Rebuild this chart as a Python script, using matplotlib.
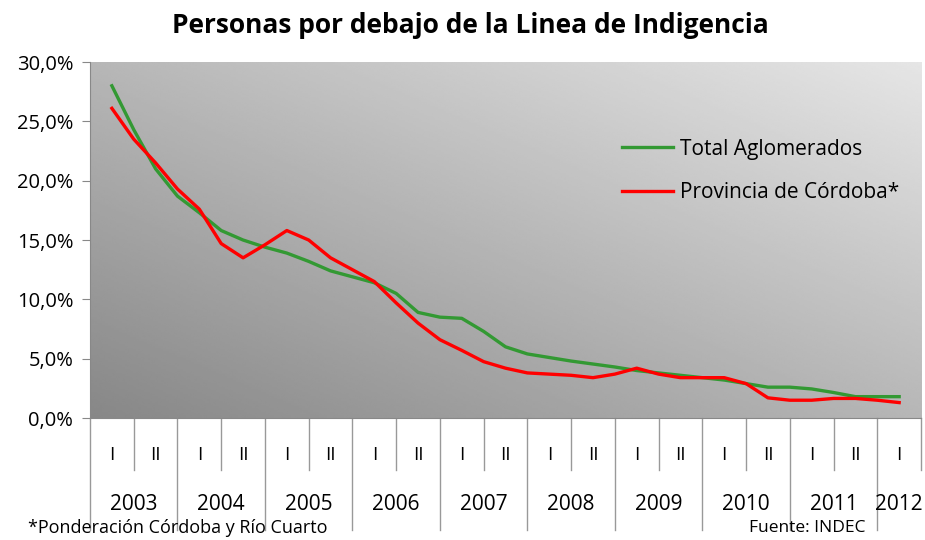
import matplotlib
matplotlib.use("Agg")
from matplotlib import pyplot as plt
from matplotlib.ticker import FuncFormatter
import numpy as np

plt.rcParams['font.family'] = ['Open Sans', 'DejaVu Sans']

years = ['2003', '2004', '2005', '2006', '2007', '2008', '2009', '2010', '2011', '2012']
semesters = ['I', 'II'] * 9 + ['I']

# values read every half semester (position in semester units)
pos = [i / 2 for i in range(37)]
total_aglo = [28.0, 24.3, 21.0, 18.7, 17.3, 15.8, 15.0, 14.4, 13.9, 13.2,
              12.4, 11.9, 11.4, 10.5, 8.9, 8.5, 8.4, 7.3, 6.0, 5.4,
              5.1, 4.8, 4.55, 4.3, 4.0, 3.8, 3.6, 3.4, 3.2, 2.9,
              2.6, 2.6, 2.45, 2.15, 1.8, 1.8, 1.8]
cordoba = [26.1, 23.5, 21.5, 19.3, 17.6, 14.7, 13.5, 14.6, 15.8, 15.0,
           13.5, 12.5, 11.5, 9.7, 8.0, 6.6, 5.7, 4.75, 4.2, 3.8,
           3.7, 3.6, 3.4, 3.7, 4.2, 3.7, 3.4, 3.4, 3.4, 2.9,
           1.7, 1.5, 1.5, 1.65, 1.65, 1.5, 1.3]

fig = plt.figure(figsize=(9.25, 5.4), dpi=100)
ax = fig.add_axes([0.0973, 0.2259, 0.8984, 0.6592])

# diagonal gray gradient background
gx, gy = np.meshgrid(np.linspace(0, 1, 300), np.linspace(0, 1, 200))
t = (gx + gy) / 2
ax.imshow(0.53 + 0.37 * t, cmap='gray', vmin=0, vmax=1, origin='lower',
          extent=[-0.5, 18.5, 0, 30], aspect='auto', zorder=0, interpolation='bilinear')

ax.plot(pos, total_aglo, color='#339933', lw=2.4, label='Total Aglomerados', zorder=3)
ax.plot(pos, cordoba, color='#ff0000', lw=2.4, label='Provincia de Córdoba*', zorder=4)

ax.set_xlim(-0.5, 18.5)
ax.set_ylim(0, 30)
ax.set_yticks(np.arange(0, 31, 5))
ax.yaxis.set_major_formatter(FuncFormatter(lambda v, p: ('%.1f%%' % v).replace('.', ',')))
ax.tick_params(axis='y', labelsize=14.5, length=6, color='#888888', pad=6)
ax.set_xticks([])
for s in ['top', 'right']:
    ax.spines[s].set_visible(False)
ax.spines['left'].set_color('#888888')
ax.spines['bottom'].set_color('#888888')

# category axis below the plot
tr = ax.get_xaxis_transform()
for i, lab in enumerate(semesters):
    ax.text(i, -0.105, lab, transform=tr, ha='center', va='center', fontsize=13.5, clip_on=False)
for b in range(0, 20):
    x = b - 0.5
    if b % 2 == 0:
        y0 = -0.315
    else:
        y0 = -0.145
    ax.plot([x, x], [0, y0], transform=tr, color='#999999', lw=1, clip_on=False)
for k, yr in enumerate(years):
    xc = 2 * k + 0.5 if k < 9 else 18
    ax.text(xc, -0.243, yr, transform=tr, ha='center', va='center', fontsize=15, clip_on=False)

leg = ax.legend(loc='upper left', bbox_to_anchor=(0.640, 0.785), frameon=False,
                fontsize=15, handlelength=2.45, labelspacing=1.1, handletextpad=0.35,
                borderpad=0, borderaxespad=0)

fig.text(0.508, 0.953, 'Personas por debajo de la Linea de Indigencia', ha='center', va='center',
         fontsize=19, fontweight='bold')
fig.text(0.03, 0.022, '*Ponderación Córdoba y Río Cuarto', ha='left', va='center', fontsize=13)
fig.text(0.81, 0.022, 'Fuente: INDEC', ha='left', va='center', fontsize=12.5)

fig.savefig('out.png', dpi=100)
